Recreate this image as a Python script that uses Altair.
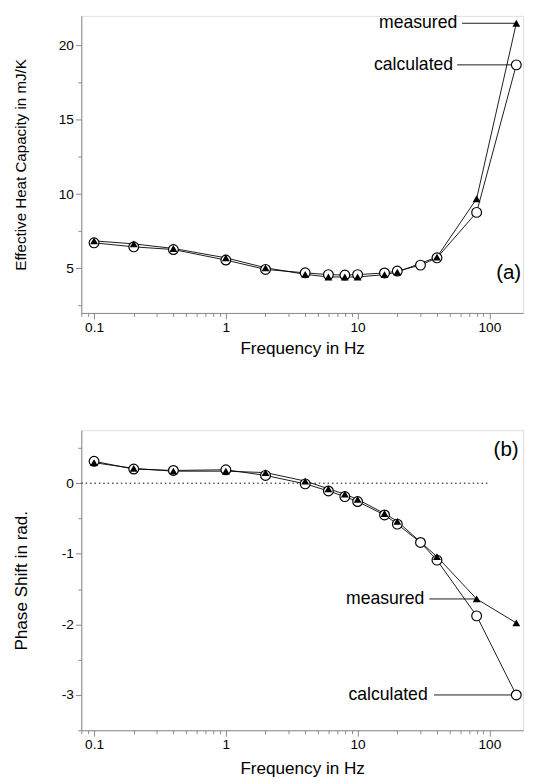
import altair as alt
import pandas as pd

# ---- data ----
freq = [0.1, 0.2, 0.4, 1, 2, 4, 6, 8, 10, 16, 20, 30, 40, 80, 160]
cap_calc = [6.72, 6.45, 6.27, 5.56, 4.93, 4.70, 4.58, 4.55, 4.58, 4.69, 4.82, 5.22, 5.71, 8.77, 18.7]
cap_meas = [6.85, 6.65, 6.34, 5.71, 5.04, 4.60, 4.42, 4.42, 4.42, 4.58, 4.75, None, 5.76, 9.69, 21.5]
phase_calc = [0.31, 0.20, 0.18, 0.19, 0.11, -0.01, -0.11, -0.19, -0.26, -0.45, -0.58, -0.84, -1.09, -1.88, -3.0]
phase_meas = [0.29, 0.21, 0.17, 0.17, 0.15, 0.03, -0.08, -0.155, -0.23, -0.43, -0.54, None, -1.04, -1.64, -1.98]

x_ticks = [0.08, 0.09, 0.1, 0.2, 0.3, 0.4, 0.5, 0.6, 0.7, 0.8, 0.9,
           1, 2, 3, 4, 5, 6, 7, 8, 9, 10, 20, 30, 40, 50, 60, 70, 80, 90, 100]
cap_ticks = [2.5, 5, 7.5, 10, 12.5, 15, 17.5, 20]
phase_ticks = [-3.5, -3, -2.5, -2, -1.5, -1, -0.5, 0, 0.5]

# annotations: label, text end frequency, line start frequency, line end frequency, value
cap_notes = [("measured", 57, 62, 160, 21.5), ("calculated", 53, 57, 160, 18.7)]
phase_notes = [("measured", 32, 35, 79, -1.64), ("calculated", 34, 38, 160, -3.0)]
cap_panel = [("(a)", 140, 4.7)]
phase_panel = [("(b)", 134, 0.47)]
zero_line = [(0.08, 100, 0.0)]

FONT = "Liberation Sans"


def long_df(calc, meas):
    rows = []
    for f, v in zip(freq, calc):
        rows.append({"f": f, "v": v, "s": "calculated"})
    for f, v in zip(freq, meas):
        if v is not None:
            rows.append({"f": f, "v": v, "s": "measured"})
    return pd.DataFrame(rows)


x_major = "abs(log(datum.value)/LN10 - round(log(datum.value)/LN10)) < 0.001"


def panel(calc, meas, notes, plabel, ydomain, yticks, ystep, ytitle, ytitle_size,
          ytitle_pad, xtitle_pad, h, zero=None):
    df = long_df(calc, meas)
    y_major = "abs(datum.value/%s - round(datum.value/%s)) < 0.001" % (ystep, ystep)
    xs = alt.Scale(type="log", domain=[0.08, 180], nice=False)
    ys = alt.Scale(domain=ydomain, nice=False, zero=False)
    xax = alt.Axis(values=x_ticks, labelExpr=x_major + " ? toString(datum.value) : ''",
                   tickSize={"condition": {"test": x_major, "value": 6}, "value": 3.5},
                   title="Frequency in Hz", titleFontSize=17.5, titlePadding=xtitle_pad,
                   titleFontWeight="normal", titleFont=FONT,
                   labelFontSize=14, labelPadding=2, grid=False, labelFlush=False,
                   labelOverlap=False)
    yax = alt.Axis(values=yticks,
                   labelExpr=y_major + " ? toString(datum.value) : ''",
                   tickSize={"condition": {"test": y_major, "value": 6}, "value": 3.5},
                   title=ytitle, titleFontSize=ytitle_size, titlePadding=ytitle_pad,
                   titleFontWeight="normal", titleFont=FONT,
                   labelFontSize=14, labelPadding=2, grid=False, labelOverlap=False)

    def X(field):
        return alt.X(field, type="quantitative", scale=xs, axis=xax)

    def Y(field):
        return alt.Y(field, type="quantitative", scale=ys, axis=yax)

    base = alt.Chart(df)
    lines = base.mark_line(color="black", strokeWidth=0.9).encode(
        x=X("f"), y=Y("v"), detail="s:N")
    circ = base.transform_filter("datum.s == 'calculated'").mark_point(
        shape="circle", size=100, fill="white", stroke="black", strokeWidth=1.2, opacity=1
    ).encode(x=X("f"), y=Y("v"))
    tri = base.transform_filter("datum.s == 'measured'").mark_point(
        shape="triangle-up", size=65, filled=True, color="black", opacity=1
    ).encode(x=X("f"), y=Y("v"))
    ndf = pd.DataFrame(notes, columns=["label", "ft", "f1", "f2", "v"])
    nrule = alt.Chart(ndf).mark_rule(color="black", strokeWidth=0.9).encode(
        x=X("f1"), x2="f2:Q", y=Y("v"))
    ntext = alt.Chart(ndf).mark_text(align="right", baseline="middle", fontSize=18,
                                     font=FONT, color="black").encode(
        x=X("ft"), y=Y("v"), text="label:N")
    pdf = pd.DataFrame(plabel, columns=["label", "f", "v"])
    ptext = alt.Chart(pdf).mark_text(align="center", baseline="middle", fontSize=21,
                                     font=FONT, color="black").encode(
        x=X("f"), y=Y("v"), text="label:N")
    layers = [lines]
    if zero is not None:
        zdf = pd.DataFrame(zero, columns=["f1", "f2", "v"])
        zr = alt.Chart(zdf).mark_rule(color="black", strokeWidth=1, strokeDash=[1.5, 3]).encode(
            x=X("f1"), x2="f2:Q", y=Y("v"))
        layers.append(zr)
    layers += [nrule, circ, tri, ntext, ptext]
    return alt.layer(*layers).properties(width=452, height=h)


top = panel(cap_calc, cap_meas, cap_notes, cap_panel, [2, 22], cap_ticks,
            5, "Effective Heat Capacity in mJ/K", 15.5, 30, 6, 304)
bottom = panel(phase_calc, phase_meas, phase_notes, phase_panel, [-3.5, 0.75], phase_ticks,
               1, "Phase Shift in rad.", 17.5, 32, 8, 307, zero=zero_line)

chart = alt.vconcat(top, bottom, spacing=73).properties(
    padding={"left": 4, "top": -3, "right": 0, "bottom": 0}
).configure_view(strokeWidth=0).configure_axis(
    domainColor="black", tickColor="black", labelColor="black", titleColor="black",
    labelFont=FONT, titleFont=FONT, titleFontWeight="normal", domainWidth=1.1, tickWidth=1.1
).configure(background="white")

chart.save("out.html", embed_options={"renderer": "svg", "actions": False})
